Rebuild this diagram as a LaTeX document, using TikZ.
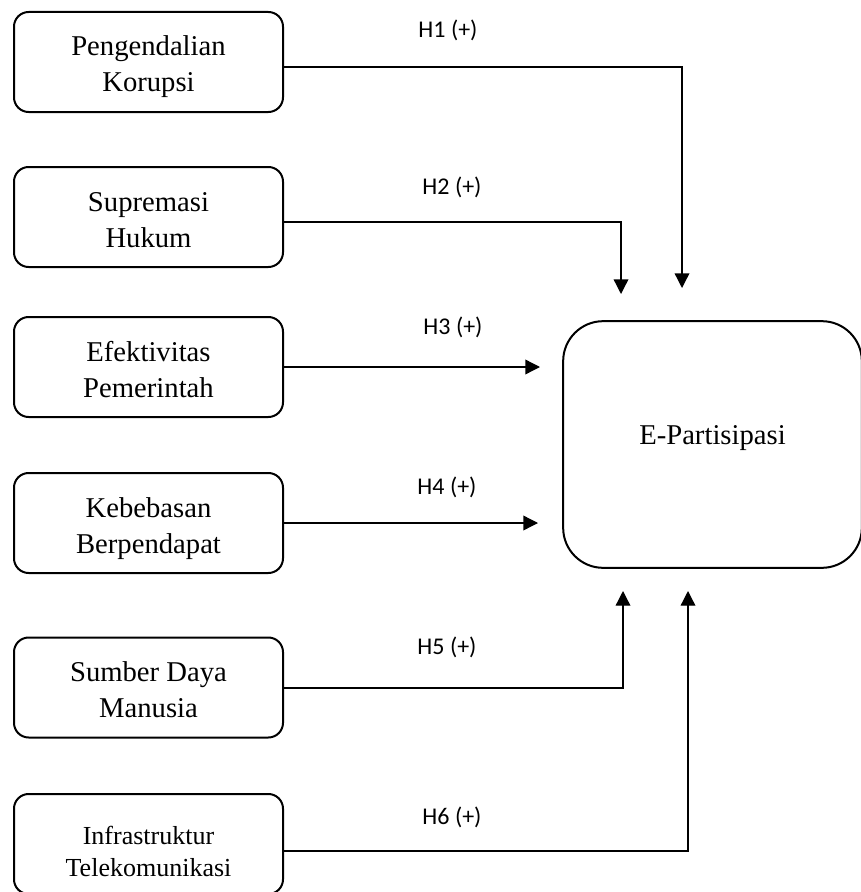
\documentclass[tikz,border=0pt]{standalone}
\usepackage{fontspec}
\setmainfont{Liberation Serif}
\newfontfamily\labfont{Carlito}
\usetikzlibrary{arrows.meta}
\begin{document}
\begin{tikzpicture}[x=0.75pt,y=-0.75pt,
  varbox/.style={draw,line width=1.5pt,rounded corners=11pt,minimum width=201.75pt,minimum height=75pt,align=center,inner sep=0pt,text height=50pt,text depth=5pt,font=\fontsize{21.5}{27}\selectfont},
  conn/.style={line width=1pt,-{Triangle[length=11pt,width=11pt]}},
  hlab/.style={font=\labfont\fontsize{18}{20}\selectfont,inner sep=0pt}]
\useasboundingbox (0,0) rectangle (860,892);
\node[varbox] (b1) at (148.5,62) {Pengendalian\\Korupsi};
\node[varbox] (b2) at (148.5,217) {Supremasi\\Hukum};
\node[varbox] (b3) at (148.5,367) {Efektivitas\\Pemerintah};
\node[varbox] (b4) at (148.5,523) {Kebebasan\\Berpendapat};
\node[varbox] (b5) at (148.5,687.5) {Sumber Daya\\Manusia};
\node[varbox,font=\fontsize{19.5}{24}\selectfont,text height=52pt,text depth=4pt] (b6) at (148.5,844) {Infrastruktur\\Telekomunikasi};
\node[draw,line width=1.5pt,rounded corners=30pt,minimum width=224pt,minimum height=185pt,inner sep=0pt,text height=10pt,text depth=10pt,font=\fontsize{21.5}{26}\selectfont] (ep) at (712.5,444.5) {E-Partisipasi};
\coordinate (t1) at (682,288);
\coordinate (t2) at (621,294);
\coordinate (t3) at (540,367);
\coordinate (t4) at (538,523);
\coordinate (t5) at (623,591);
\coordinate (t6) at (688,591);
\draw[conn] (b1.east |- 0,67) -| (t1);
\draw[conn] (b2.east |- 0,222) -| (t2);
\draw[conn] (b3.east) -- (t3);
\draw[conn] (b4.east) -- (t4);
\draw[conn] (b5.east |- 0,688) -| (t5);
\draw[conn] (b6.east |- 0,851) -| (t6);
\node[hlab] (l1) at (448,30) {H1 (+)};
\node[hlab] (l2) at (452,187) {H2 (+)};
\node[hlab] (l3) at (453,327) {H3 (+)};
\node[hlab] (l4) at (447,487) {H4 (+)};
\node[hlab] (l5) at (447,647) {H5 (+)};
\node[hlab] (l6) at (452,817) {H6 (+)};
\end{tikzpicture}
\end{document}
